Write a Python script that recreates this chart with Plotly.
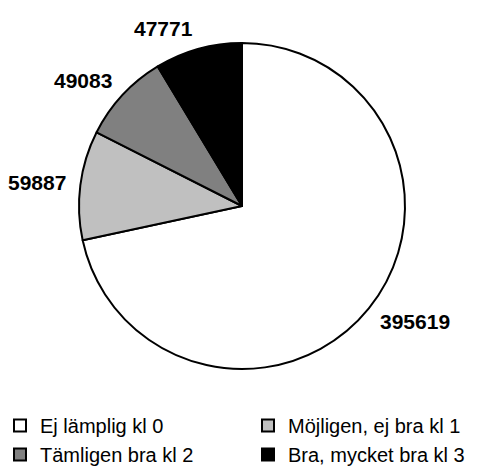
import math
import plotly.graph_objects as go

# Suitability classes and their counts
categories = ["Ej lämplig kl 0", "Möjligen, ej bra kl 1", "Tämligen bra kl 2", "Bra, mycket bra kl 3"]
counts = [395619, 59887, 49083, 47771]
fill_colors = ["#FFFFFF", "#C0C0C0", "#808080", "#000000"]

W, H = 501, 471
cx, cy, r = 242, 206, 163  # pie centre and radius in pixels
label_gap = 12             # distance between pie edge and the value labels
font_family = "Liberation Sans, Arial, sans-serif"

fig = go.Figure(
    go.Pie(
        labels=categories,
        values=counts,
        sort=False,
        direction="clockwise",
        rotation=0,
        marker=dict(colors=fill_colors, line=dict(color="#000000", width=2)),
        textinfo="none",
        hoverinfo="label+value",
        domain=dict(x=[(cx - r) / W, (cx + r) / W], y=[1 - (cy + r) / H, 1 - (cy - r) / H]),
    )
)

# Value labels placed just outside each slice, at the slice's mid-angle
total = sum(counts)
start = 0.0
for value in counts:
    sweep = 360.0 * value / total
    mid = math.radians(start + sweep / 2)
    start += sweep
    dx, dy = math.sin(mid), -math.cos(mid)  # screen direction, clockwise from 12 o'clock
    px = cx + dx * (r + label_gap)
    py = cy + dy * (r + label_gap) + 9 * dy
    fig.add_annotation(
        x=px / W,
        y=1 - py / H,
        xref="paper",
        yref="paper",
        text=f"<b>{value}</b>",
        showarrow=False,
        xanchor="left" if dx > 0 else "right",
        yanchor="middle",
        font=dict(family=font_family, size=21, color="#000000"),
    )

fig.update_layout(
    width=W,
    height=H,
    margin=dict(l=0, r=0, t=0, b=0, autoexpand=False),
    paper_bgcolor="#FFFFFF",
    plot_bgcolor="#FFFFFF",
    showlegend=True,
    legend=dict(
        orientation="h",
        x=0,
        xanchor="left",
        y=1 - 406 / H,
        yanchor="top",
        entrywidth=203,
        entrywidthmode="pixels",
        font=dict(family=font_family, size=20, color="#000000"),
        itemclick=False,
        bgcolor="rgba(0,0,0,0)",
    ),
)

fig.write_html("out.html")
